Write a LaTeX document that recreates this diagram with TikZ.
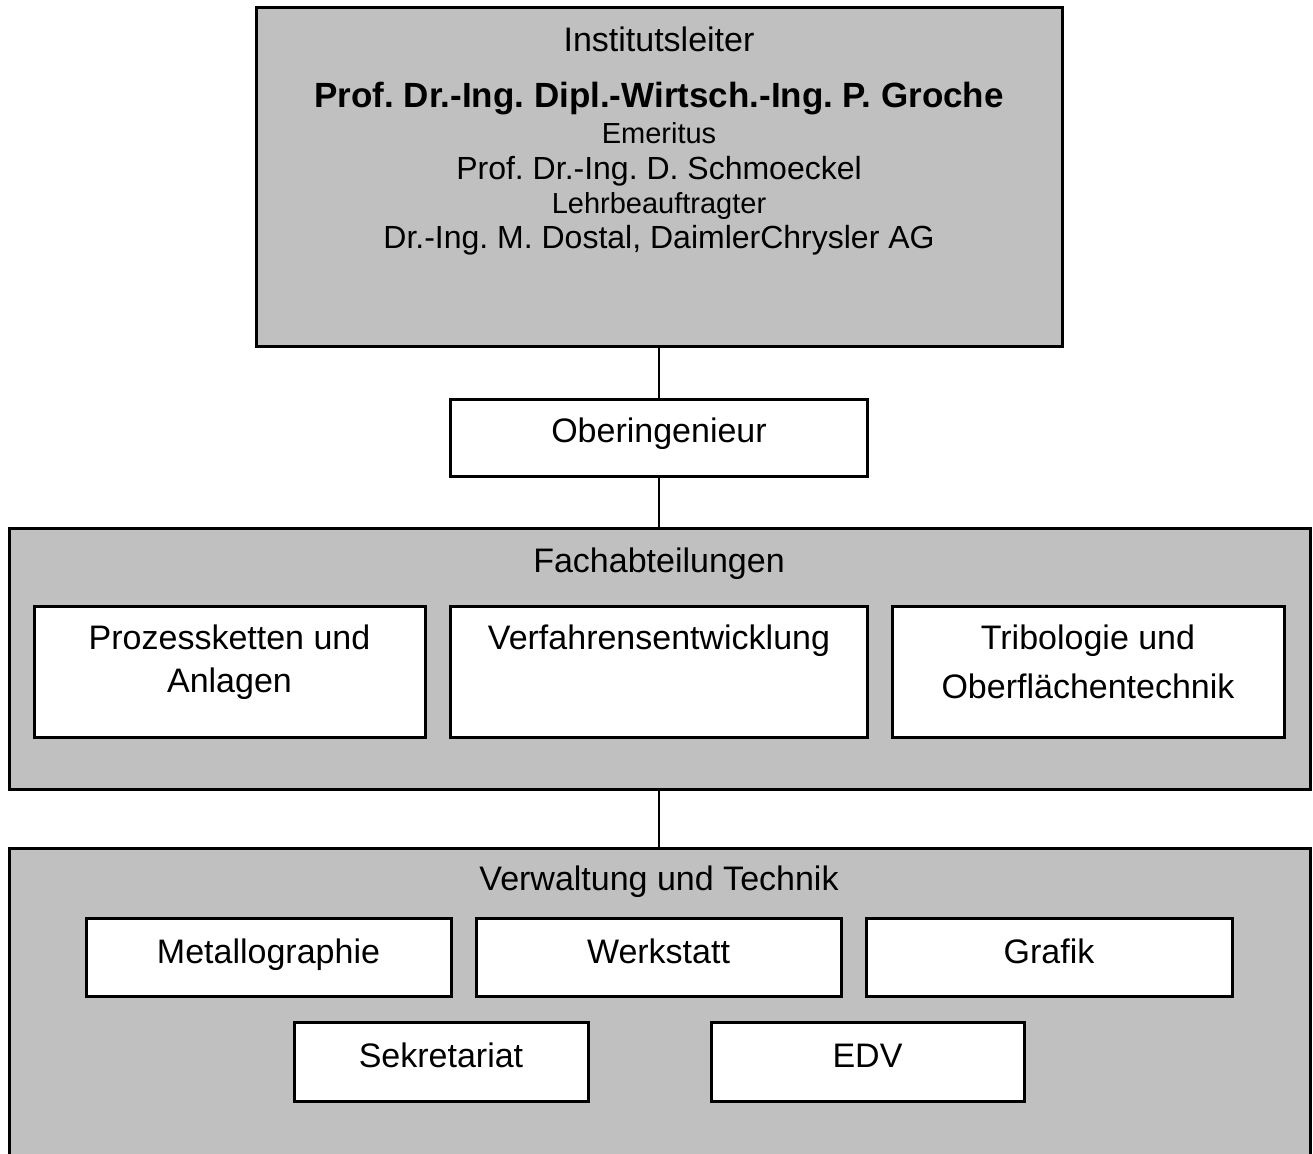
\documentclass[tikz,border=0pt]{standalone}
\usepackage{fontspec}
\setmainfont{Liberation Sans}
\frenchspacing
\definecolor{boxgray}{HTML}{C0C0C0}
\begin{document}
\begin{tikzpicture}[x=1pt,y=-1pt,
  graybox/.style={draw=black,line width=3pt,fill=boxgray},
  whitebox/.style={draw=black,line width=3pt,fill=white},
  lbl/.style={anchor=base,inner sep=0pt,font=\fontsize{34}{40}\selectfont},
  namelbl/.style={anchor=base,inner sep=0pt,font=\fontsize{32}{38}\selectfont},
  smalllbl/.style={anchor=base,inner sep=0pt,font=\fontsize{29}{34}\selectfont},
  boldlbl/.style={anchor=base,inner sep=0pt,font=\fontsize{35}{40}\selectfont\bfseries},
  conn/.style={draw=black,line width=2.2pt}]
\useasboundingbox (0,0) rectangle (1313,1153);
\clip (0,0) rectangle (1313,1153);
\fill[white] (0,0) rectangle (1313,1153);

% boxes
\draw[graybox] (256,8) rectangle (1062,346);
\coordinate (topS) at (659,346);
\node[whitebox,minimum width=417pt,minimum height=77pt,inner sep=0pt] (ober) at (659,437.5) {};
\draw[graybox] (9,528) rectangle (1310,789);
\coordinate (fachN) at (659,528);
\coordinate (fachS) at (659,789);
\node[whitebox,minimum width=391pt,minimum height=131pt,inner sep=0pt] (p1) at (229.5,671.5) {};
\node[whitebox,minimum width=417pt,minimum height=131pt,inner sep=0pt] (p2) at (659,671.5) {};
\node[whitebox,minimum width=392pt,minimum height=131pt,inner sep=0pt] (p3) at (1088,671.5) {};
\draw[graybox] (9,848) rectangle (1310,1170);
\coordinate (verwN) at (659,848);
\node[whitebox,minimum width=365pt,minimum height=78pt,inner sep=0pt] (m1) at (268.5,957) {};
\node[whitebox,minimum width=365pt,minimum height=78pt,inner sep=0pt] (m2) at (658.5,957) {};
\node[whitebox,minimum width=366pt,minimum height=78pt,inner sep=0pt] (m3) at (1049,957) {};
\node[whitebox,minimum width=294pt,minimum height=79pt,inner sep=0pt] (s1) at (441,1061.5) {};
\node[whitebox,minimum width=313pt,minimum height=79pt,inner sep=0pt] (s2) at (867.5,1061.5) {};

% connectors
\draw[conn] (topS) -- (ober.north);
\draw[conn] (ober.south) -- (fachN);
\draw[conn] (fachS) -- (verwN);

% texts
\node[lbl] (t1) at (659,52) {Institutsleiter};
\node[boldlbl] (t2) at (659,107) {Prof. Dr.-Ing. Dipl.-Wirtsch.-Ing. P. Groche};
\node[smalllbl] (t3) at (659,143) {Emeritus};
\node[namelbl] (t4) at (659,179) {Prof. Dr.-Ing. D. Schmoeckel};
\node[smalllbl] (t5) at (659,213) {Lehrbeauftragter};
\node[namelbl] (t6) at (659,248) {Dr.-Ing. M. Dostal, DaimlerChrysler AG};

\node[lbl] (to) at (659,442) {Oberingenieur};
\node[lbl] (tf) at (659,572) {Fachabteilungen};
\node[lbl] (tp1a) at (229.5,649) {Prozessketten und};
\node[lbl] (tp1b) at (229.5,692) {Anlagen};
\node[lbl] (tp2) at (659,649) {Verfahrensentwicklung};
\node[lbl] (tp3a) at (1088,649) {Tribologie und};
\node[lbl] (tp3b) at (1088,698) {Oberflächentechnik};

\node[lbl] (tv) at (659,890) {Verwaltung und Technik};
\node[lbl] (tm1) at (268.5,963) {Metallographie};
\node[lbl] (tm2) at (658.5,963) {Werkstatt};
\node[lbl] (tm3) at (1049,963) {Grafik};
\node[lbl] (ts1) at (441,1067) {Sekretariat};
\node[lbl] (ts2) at (867.5,1067) {EDV};
\end{tikzpicture}
\end{document}
